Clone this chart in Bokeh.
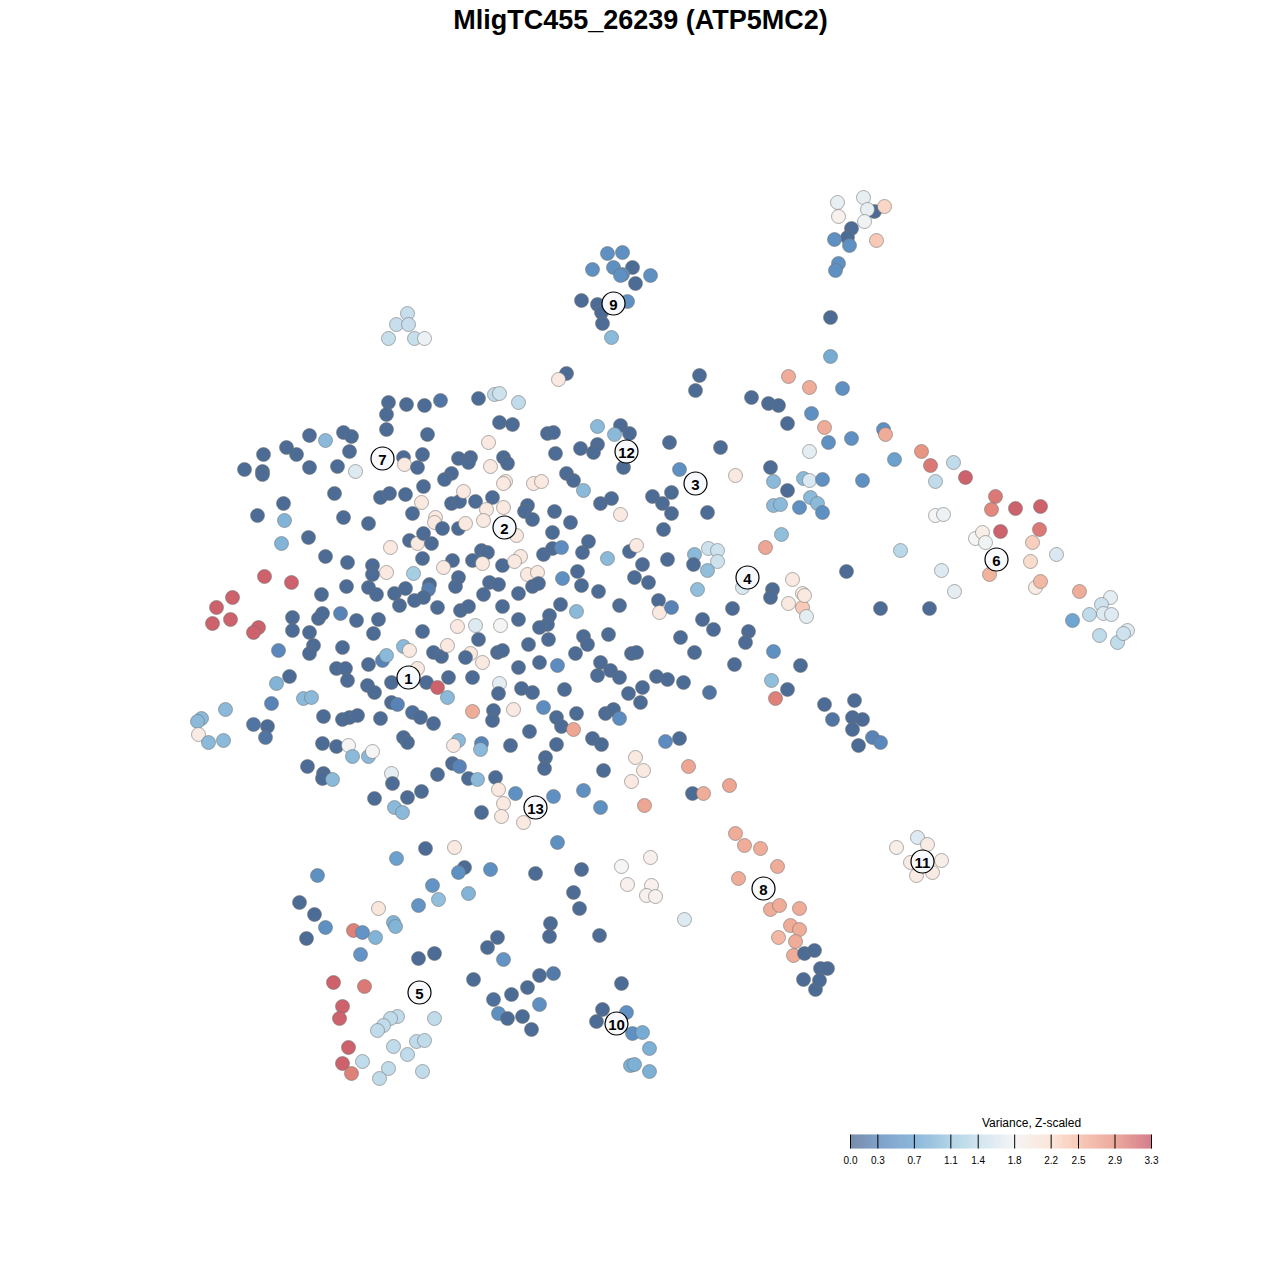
from bokeh.plotting import figure
from bokeh.models import Range1d, ColumnDataSource
from bokeh.transform import linear_cmap
from bokeh.core.properties import value
from bokeh.embed import file_html
from bokeh.resources import INLINE

TITLE = "MligTC455_26239 (ATP5MC2)"
LEGEND_TITLE = "Variance, Z-scaled"

# t-SNE embedding (tSNE_1, tSNE_2) and Z-scaled variance per cell, grouped by region
cells_top = [
    (407,313,1.35),(396,324,1.35),(408,324,1.35),(388,338,1.35),(414,338,1.35),(424,338,1.7),
    (607,253,.45),(622,252,.45),(592,269,.45),(613,267,.45),(632,267,.05),(622,274,.45),(620,275,.45),
    (650,275,.45),(635,283,.05),(581,300,.05),(597,304,.05),(627,301,.45),(601,312,.05),(602,323,.05),(611,337,.9),
    (837,202,1.65),(863,197,1.65),(838,216,1.9),(874,211,.05),(867,209,1.65),(884,206,2.3),(864,221,1.75),
    (851,228,.05),(847,237,.05),(834,239,.45),(849,245,.45),(876,240,2.4),(838,263,.45),(835,270,.45),
    (830,317,.05),(830,356,.75),(842,388,.45),
]
cells_upper = [
    (388,402,.05),(406,404,.05),(424,405,.05),(440,400,.15),(478,398,.05),(494,394,1.3),(499,393,1.4),(386,414,.05),
    (386,429,.05),(427,434,.05),(499,422,.05),(512,424,.05),(518,402,1.3),
    (309,435,.05),(325,440,.9),(343,432,.05),(351,436,.05),(349,451,.05),(286,447,.05),(296,454,.05),(263,454,.05),
    (244,469,.05),(262,471,.05),(262,474,.05),(309,467,.05),(337,466,.05),(355,471,1.55),
    (403,457,.05),(422,454,.05),(404,464,2.05),(417,467,.05),(458,458,.05),(470,457,.05),(468,462,.05),(488,442,2.05),
    (490,466,2.05),(503,457,.05),(507,463,.05),(451,473,.05),(444,479,.05),
    (566,373,.05),(558,379,2.05),(699,375,.05),(695,390,.05),(788,376,2.65),(809,387,2.65),(751,397,.05),(768,403,.05),
    (778,405,.05),(811,413,.45),(787,423,.05),(824,427,2.65),
    (597,426,.9),(620,425,.05),(614,434,.9),(629,433,.05),(547,433,.05),(553,432,.05),(580,448,.05),(597,444,.05),
    (593,452,.05),(669,442,.05),(720,447,.05),(555,453,.05),(623,467,.05),(566,473,.05),(573,480,.05),(679,469,.45),
    (735,475,2.05),(770,467,.05),(809,451,1.6),(773,481,.9),(803,478,.9),(809,480,1.5),(505,481,2.05),(533,483,2.05),
    (541,481,2.05),
    (828,442,.45),(851,438,.45),(883,429,.45),(885,434,2.65),(894,459,.65),(921,451,2.85),(930,465,3.05),(953,462,1.3),
    (965,477,3.2),(935,481,1.3),(862,480,.45),(822,479,.45),
]
cells_left = [
    (334,493,.05),(283,503,.05),(257,515,.05),(284,520,.85),(281,543,.85),(343,517,.05),(368,523,.05),(308,537,.05),
    (325,556,.05),(347,562,.05),(264,576,3.2),(291,582,3.2),(232,597,3.2),(216,607,3.2),(230,619,3.2),(212,623,3.2),
    (258,627,3.2),(253,632,3.2),
    (380,497,.05),(389,493,.05),(405,494,.05),(423,486,.05),(421,502,2.05),(412,513,.05),(451,503,.05),(459,501,.05),
    (463,491,2.05),(475,501,.05),(492,497,.05),(486,509,2.05),(483,520,2.05),(503,483,2.05),(503,507,2.05),
    (435,517,2.05),(434,522,2.05),(442,528,.05),(458,528,.05),(465,523,2.05),
    (409,540,.05),(417,543,2.05),(423,533,.05),(431,543,.05),(390,547,2.05),(422,558,.05),(452,560,.05),(472,560,.05),
    (481,550,.05),(487,552,.05),(482,563,2.05),(443,567,2.05),(502,565,.05),
    (372,565,.05),(372,574,.05),(386,572,2.05),(413,573,1.1),(346,586,.05),(368,587,.05),(376,594,.05),(394,593,.05),
    (405,588,.05),(429,584,.05),(428,589,.25),(423,597,.05),(414,600,.05),(399,605,.05),(458,577,.05),(455,586,.05),
    (489,582,.05),(498,584,.05),(483,594,.05),(502,606,.05),(437,607,.05),(460,610,.05),(468,606,.05),
    (321,594,.05),(292,617,.05),(292,630,.05),(318,618,.05),(322,613,.05),(340,613,.3),(356,620,.05),(378,619,.05),
    (373,633,.05),(309,632,.05),(313,645,.05),(309,653,.05),(342,647,.05),(278,650,.35),(422,631,.05),(457,626,2.05),
    (475,625,1.55),(500,625,1.8),(478,639,.05),
    (403,646,.9),(409,650,2.05),(382,660,.3),(386,655,.9),(433,652,.05),(441,656,.05),(447,645,2.05),(470,653,2.05),
    (482,662,2.05),(465,657,.05),(497,652,.05),(502,650,.05),
    (336,668,.05),(345,668,.05),(368,664,.05),(347,680,.05),(367,685,.05),(374,692,.05),(391,682,.05),(417,668,2.05),
    (426,682,.05),(437,687,3.2),(448,677,.05),(472,677,.05),(499,683,1.6),(498,693,.05),(447,697,.9),(472,711,2.65),
    (289,676,.05),(276,683,.85),(271,703,.3),(303,698,.9),(311,697,.9),(225,709,.9),(201,718,.9),(197,721,.9),
    (198,734,2.0),(208,742,.9),(223,740,.9),(253,724,.15),(267,726,.05),(265,737,.15),
    (391,702,.05),(397,704,.3),(412,712,.1),(420,717,.05),(433,723,.05),(323,716,.05),(342,719,.05),(349,717,.05),
    (357,715,.05),(380,718,.05),(493,710,.05),(492,720,.05),
    (403,737,.05),(407,742,.05),(322,743,.05),(336,746,.05),(348,745,1.8),(352,756,.9),(368,756,.9),(372,751,1.8),
    (307,766,.05),(323,773,.05),(322,778,.05),(332,779,.9),(391,773,1.6),(392,783,.05),(437,774,.05),(458,740,.9),
    (453,745,2.05),(481,743,.3),(480,749,.9),(452,763,.05),(459,766,.3),(468,778,.05),(477,779,.9),(495,777,.05),
]
cells_center = [
    (583,490,.9),(600,503,.05),(611,498,.05),(620,514,2.05),(652,496,.05),(671,492,.05),(662,503,.05),(671,513,.05),
    (707,512,.05),(663,529,.05),(787,490,.05),(773,505,.9),(780,504,.9),(799,507,.45),(810,497,.9),(817,503,.9),(822,512,.45),
    (554,511,.05),(570,522,.05),(552,532,.05),(527,505,.05),(524,511,.05),(532,519,.05),(516,535,2.05),(520,556,2.05),
    (514,561,2.05),(527,574,2.05),(537,572,2.05),(518,593,.05),(532,586,.05),(538,583,.05),(543,554,.05),(552,548,.05),
    (561,547,.4),(582,552,.05),(588,541,.05),(577,571,.05),(581,585,.05),(562,578,.45),(598,591,.05),(607,558,.9),
    (629,551,.05),(636,545,2.05),(642,564,.05),(634,577,.05),(648,582,.05),(667,559,.05),(694,554,.9),(693,564,.05),
    (708,548,1.4),(717,550,1.4),(717,561,1.4),(707,570,.95),(697,589,.95),(765,547,2.7),(781,534,.95),
    (560,604,.05),(549,615,.05),(547,624,.05),(539,627,.05),(518,619,.05),(576,611,.9),(619,605,.05),(658,600,.05),
    (659,612,2.05),(671,607,.3),(742,587,1.5),(772,589,.05),(770,597,.05),(732,608,.05),(702,619,.05),(713,629,.05),
    (748,631,.05),(745,642,.05),(792,579,2.05),(802,593,2.05),(788,603,2.05),(802,607,2.4),(806,616,1.6),(804,595,2.05),
    (528,644,.05),(548,639,.05),(583,636,.05),(587,644,.05),(608,634,.05),(575,653,.05),(539,662,.05),(557,665,.4),
    (518,667,.05),(600,662,.05),(597,675,.05),(610,670,.05),(619,677,.05),(631,653,.05),(636,652,.05),(680,637,.05),
    (694,652,.05),(734,664,.05),(773,651,.45),(800,665,.05),(656,676,.05),(667,679,.05),(683,682,.05),(642,687,.05),
    (628,693,.05),(640,702,.05),(709,692,.15),(771,680,.95),(787,689,.05),(775,698,3.0),
    (513,709,2.05),(521,688,.05),(532,692,.05),(564,689,.05),(543,707,.4),(556,717,.05),(561,726,.05),(576,713,.05),
    (573,729,2.7),(605,713,.05),(613,709,.05),(619,718,.4),(529,731,.05),(510,745,.05),(556,744,.05),(592,738,.05),
    (601,744,.05),(665,741,.4),(679,738,.05),(545,757,.05),(544,768,.05),(603,770,.05),(635,757,2.05),(643,770,2.05),
    (688,766,2.7),(631,781,2.05),
]
cells_right = [
    (995,496,3.05),(991,509,2.95),(1015,508,3.2),(1040,506,3.2),(1000,531,3.2),(1039,529,3.05),(935,515,1.8),
    (943,514,1.7),(975,538,1.8),(982,532,1.95),(985,542,1.75),(1032,542,2.35),(1030,561,2.25),(900,550,1.25),
    (846,571,.05),(941,570,1.55),(954,591,1.6),(989,574,2.6),(1056,554,1.5),(1035,587,2.0),(1040,581,2.55),
    (1079,591,2.65),(880,608,.05),(929,608,.05),
    (1110,597,1.6),(1101,604,1.4),(1103,613,1.55),(1111,614,1.55),(1089,614,1.3),(1072,620,.7),(1099,635,1.3),
    (1117,642,1.3),(1127,630,1.55),(1123,633,1.4),
    (824,704,.05),(854,700,.05),(832,719,.15),(852,717,.05),(862,719,.05),(852,729,.05),(872,737,.3),(880,742,.35),
    (858,745,.05),
]
cells_lower_left = [
    (498,789,2.05),(503,803,2.05),(501,816,2.05),(374,798,.05),(407,797,.05),(421,791,.05),(394,807,.9),(402,812,.9),
    (481,812,.05),
    (425,848,.05),(454,847,2.05),(396,858,.65),(464,867,.05),(458,872,.45),(490,869,.45),(317,875,.45),(432,885,.5),
    (438,899,.95),(468,893,.85),(418,905,.5),(299,902,.05),(314,914,.05),(325,927,.45),(378,908,2.1),(393,922,.85),
    (395,926,.85),(353,930,3.0),(362,932,.5),(375,937,.85),(306,938,.05),(360,954,.5),(418,958,.05),(434,953,.05),
    (497,937,.05),(487,947,.05),(503,959,.5),(473,979,.05),(333,982,3.2),(364,986,3.05),(493,999,.1),(498,1013,.45),
    (342,1006,3.2),(339,1018,3.2),
    (397,1016,1.3),(390,1018,1.3),(383,1025,1.3),(377,1030,1.3),(434,1018,1.3),(393,1046,1.3),(416,1041,1.3),
    (424,1040,1.3),(407,1054,1.3),(348,1047,3.2),(342,1063,3.2),(351,1073,3.0),(362,1061,1.3),(388,1068,1.3),
    (379,1078,1.3),(422,1071,1.3),
]
cells_lower = [
    (515,793,.45),(553,796,.45),(583,790,.45),(600,807,.45),(692,793,.05),(703,793,2.65),(729,785,2.7),(644,805,2.7),
    (523,822,2.05),
    (557,842,.45),(535,873,.05),(581,869,.05),(573,892,.05),(579,908,.05),(621,866,1.8),(650,857,1.9),(627,884,1.9),
    (651,885,1.9),(646,895,1.9),(655,896,1.9),(684,919,1.55),
    (735,833,2.65),(744,845,2.65),(760,848,2.65),(777,866,2.65),(738,878,2.65),(770,909,2.65),(779,905,2.65),
    (799,908,2.65),(790,925,2.65),(799,929,2.65),(778,937,2.55),(795,941,2.65),(793,955,2.65),
    (804,953,.05),(814,950,.05),(820,968,.05),(827,968,.05),(803,979,.05),(815,989,.05),(819,980,.05),
    (550,923,.05),(549,936,.05),(599,935,.05),(539,975,.05),(553,973,.2),(527,987,.05),(511,994,.05),(539,1004,.45),
    (507,1018,.05),(522,1016,.05),(531,1029,.05),
    (621,983,.05),(602,1009,.05),(596,1021,.05),(626,1012,.45),(632,1033,.45),(642,1032,.75),(649,1048,.8),
    (630,1065,.8),(634,1064,.8),(649,1071,.8),
    (917,837,1.55),(896,847,1.95),(927,844,2.0),(941,860,1.95),(910,862,2.0),(932,872,2.0),(916,875,2.0),
]

cluster_ids = ["1","2","3","4","5","6","7","8","9","10","11","12","13"]
cluster_x = [408, 504, 695, 747, 419, 996, 382, 763, 613, 616, 922, 626, 535]
cluster_y = [677, 527, 483, 577, 992, 559, 458, 888, 303, 1023, 861, 451, 807]

legend_ticks = [0.0, 0.3, 0.7, 1.1, 1.4, 1.8, 2.2, 2.5, 2.9, 3.3]
VMIN, VMAX = 0.0, 3.3

# colour scale
stops = [(0.0, "#4a6890"), (0.35, "#5a88bd"), (0.7, "#6fa6d1"), (1.1, "#a6cee2"), (1.45, "#d5e6f0"),
         (1.8, "#f5f5f5"), (2.2, "#fbe2d4"), (2.5, "#f5bea8"), (2.9, "#e6907f"), (3.3, "#c65466")]

def hex2rgb(h):
    h = h.lstrip("#")
    return tuple(int(h[i:i+2], 16) for i in (0, 2, 4))

def make_palette(n=256):
    out = []
    for i in range(n):
        v = VMIN + (VMAX - VMIN) * i / (n - 1)
        for (a, ca), (b, cb) in zip(stops[:-1], stops[1:]):
            if a <= v <= b:
                t = (v - a) / (b - a)
                ra, rb = hex2rgb(ca), hex2rgb(cb)
                c = tuple(round(ra[k] + (rb[k] - ra[k]) * t) for k in range(3))
                out.append("#%02x%02x%02x" % c)
                break
    return out

palette = make_palette()

all_cells = cells_top + cells_upper + cells_left + cells_center + cells_right + cells_lower_left + cells_lower
src = ColumnDataSource(dict(
    x=[c[0] for c in all_cells],
    y=[c[1] for c in all_cells],
    v=[c[2] for c in all_cells],
))

p = figure(width=1264, height=1264, x_range=Range1d(0, 1264), y_range=Range1d(1264, 0),
           output_backend="svg", toolbar_location=None, min_border=0,
           x_axis_type=None, y_axis_type=None)
p.grid.visible = False
p.outline_line_color = None
p.background_fill_color = "white"

cmap = linear_cmap("v", palette, VMIN, VMAX)
p.scatter("x", "y", source=src, size=14, fill_color=cmap, fill_alpha=1.0,
          line_color="#6f6f6f", line_alpha=0.7, line_width=0.8)

# cluster labels
lab = ColumnDataSource(dict(x=cluster_x, y=cluster_y, t=cluster_ids))
p.scatter("x", "y", source=lab, size=23, fill_color="#f7f9fc", line_color="black", line_width=1.2)
p.text("x", "y", text="t", source=lab, text_align="center", text_baseline="middle",
       text_font=value("Liberation Sans"), text_font_style="bold", text_font_size="15px",
       text_color="black", y_offset=1)

# title
p.text(x=[640], y=[19], text=[TITLE], text_align="center", text_baseline="middle",
       text_font=value("Liberation Sans"), text_font_style="bold", text_font_size="27px",
       text_color="black")

# colour legend
bar_left, bar_right, bar_top, bar_bottom = 850, 1151, 1134, 1148
n = 300
edges = [bar_left + (bar_right - bar_left) * i / n for i in range(n + 1)]
bar_src = ColumnDataSource(dict(
    left=edges[:-1], right=edges[1:],
    v=[VMIN + (VMAX - VMIN) * (i + 0.5) / n for i in range(n)],
))
p.quad(left="left", right="right", top=bar_top, bottom=bar_bottom, source=bar_src,
       fill_color=linear_cmap("v", palette, VMIN, VMAX), line_color=None)
tick_x = [bar_left + (bar_right - bar_left) * (t - VMIN) / (VMAX - VMIN) for t in legend_ticks]
p.segment(x0=tick_x, x1=tick_x, y0=[bar_top] * len(tick_x), y1=[bar_bottom] * len(tick_x),
          line_color="black", line_width=1)
p.text(x=tick_x, y=[1159] * len(tick_x), text=["%.1f" % t for t in legend_ticks],
       text_align="center", text_baseline="middle", text_font=value("Liberation Sans"),
       text_font_size="10px", text_color="black")
p.text(x=[1031], y=[1122], text=[LEGEND_TITLE], text_align="center", text_baseline="middle",
       text_font=value("Liberation Sans"), text_font_size="12px", text_color="black")

open("out.html", "w").write(file_html(p, INLINE))
